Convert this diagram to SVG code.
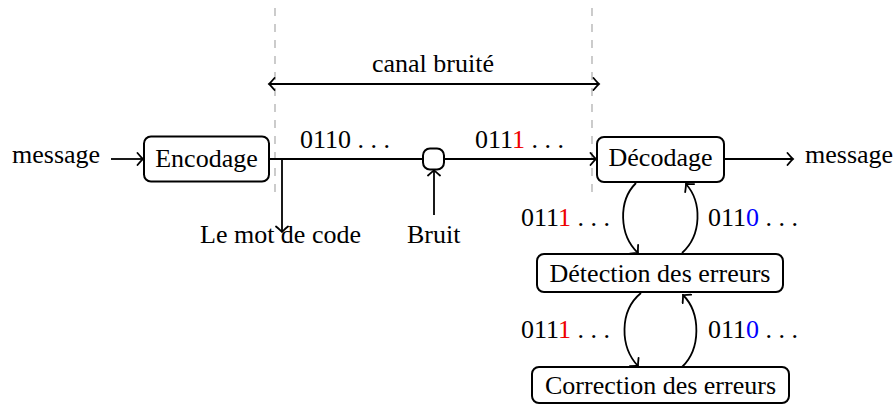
<svg xmlns="http://www.w3.org/2000/svg" width="896" height="405" viewBox="0 0 896 405">
<defs>
<marker id="to" viewBox="-7 -7 9 14" refX="0" refY="0" markerWidth="9" markerHeight="14" markerUnits="userSpaceOnUse" orient="auto">
<path d="M-5.5,-6 Q-1.5,-1.3 0,0 Q-1.5,1.3 -5.5,6" fill="none" stroke="#000" stroke-width="1.8" stroke-linecap="round"/>
</marker>
<marker id="from" viewBox="-2 -7 9 14" refX="0" refY="0" markerWidth="9" markerHeight="14" markerUnits="userSpaceOnUse" orient="auto">
<path d="M5.5,-6 Q1.5,-1.3 0,0 Q1.5,1.3 5.5,6" fill="none" stroke="#000" stroke-width="1.8" stroke-linecap="round"/>
</marker>
</defs>
<style>
text{font-family:"Liberation Serif","Times New Roman",serif;font-size:26px;fill:#000}
.box{fill:#fff;stroke:#000;stroke-width:2}
.edge{fill:none;stroke:#000;stroke-width:1.8}
.dash{stroke:#aaa;stroke-width:1.2;stroke-dasharray:8 8;fill:none}
.mid{text-anchor:middle}
.r{fill:#e00}
.b{fill:#00f}
</style>
<g id="guides">
<line class="dash" x1="275" y1="8" x2="275" y2="192"/>
<line class="dash" x1="592" y1="8" x2="592" y2="192"/>
</g>
<g id="connectors">
<line class="edge" x1="269" y1="84" x2="599" y2="84" marker-start="url(#from)" marker-end="url(#to)"/>
<line class="edge" x1="111" y1="159" x2="143" y2="159" marker-end="url(#to)"/>
<line class="edge" x1="269" y1="159" x2="423" y2="159"/>
<line class="edge" x1="444" y1="159" x2="596" y2="159" marker-end="url(#to)"/>
<line class="edge" x1="282" y1="159" x2="282" y2="232" marker-end="url(#to)"/>
<line class="edge" x1="434" y1="215" x2="434" y2="170" marker-end="url(#to)"/>
<line class="edge" x1="724" y1="159" x2="793" y2="159" marker-end="url(#to)"/>
<path class="edge" d="M636,183 C618,201 619,235 638,253" marker-end="url(#to)"/>
<path class="edge" d="M682,253 C702,235 702,202 686,184" marker-end="url(#to)"/>
<path class="edge" d="M641,293 C619,311 620,347 638,366" marker-end="url(#to)"/>
<path class="edge" d="M682,367 C701,349 701,313 683,295" marker-end="url(#to)"/>
</g>
<g id="label-canal"><text class="mid" x="433" y="72">canal bruité</text></g>
<g id="msg-in"><text x="12" y="163">message</text></g>
<g id="encodage">
<rect class="box" x="144" y="136.5" width="125" height="45" rx="7"/>
<text class="mid" x="206.5" y="167">Encodage</text>
</g>
<g id="bruit-node">
<rect class="box" x="423" y="148.5" width="21" height="21" rx="7"/>
</g>
<g id="decodage">
<rect class="box" x="597" y="137" width="127" height="45" rx="7"/>
<text class="mid" x="660.5" y="166">Décodage</text>
</g>
<g id="msg-out"><text x="805" y="163">message</text></g>
<g id="mot-code"><text x="200" y="243">Le mot de code</text></g>
<g id="bruit"><text x="407" y="243">Bruit</text></g>
<g id="detection">
<rect class="box" x="537" y="254" width="246" height="38" rx="7"/>
<text class="mid" x="660" y="282">Détection des erreurs</text>
</g>
<g id="correction">
<rect class="box" x="532" y="367" width="257" height="36" rx="7"/>
<text class="mid" x="660.5" y="394">Correction des erreurs</text>
</g>
<g id="labels">
<text x="300" y="148">0110 . . .</text>
<text x="475" y="148">011<tspan class="r">1</tspan> . . .</text>
<text x="521" y="226">011<tspan class="r">1</tspan> . . .</text>
<text x="708" y="226">011<tspan class="b">0</tspan> . . .</text>
<text x="521" y="338">011<tspan class="r">1</tspan> . . .</text>
<text x="708" y="338">011<tspan class="b">0</tspan> . . .</text>
</g>
</svg>
